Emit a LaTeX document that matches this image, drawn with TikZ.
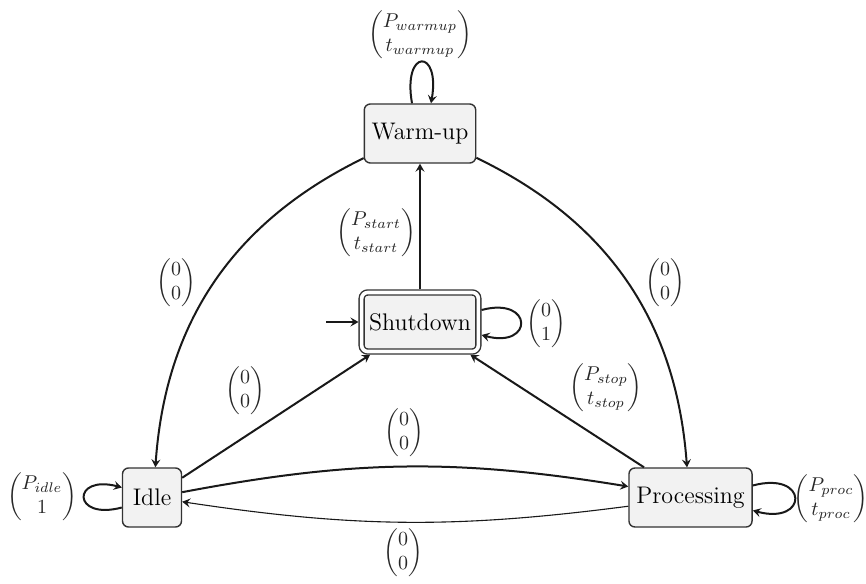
\documentclass[tikz,border=0pt]{standalone}
\usepackage{amsmath}
\usetikzlibrary{arrows.meta}
\begin{document}
\begin{tikzpicture}[x=0.5pt,y=-0.5pt,
  state/.style={draw=black!80, fill=black!5, rounded corners=3pt, line width=0.7pt,
    minimum width=29.5pt, minimum height=29.5pt, inner xsep=3.7pt, font=\large},
  initstate/.style={state, double=white, double distance=1.8pt, outer sep=1.6pt},
  conn/.style={-{Stealth[length=4pt,width=4.5pt,inset=1.5pt]}, line width=1pt, draw=black!90},
  thinconn/.style={conn, line width=0.55pt},
  lbl/.style={inner sep=0pt, text=black!85}]
\useasboundingbox (0,0) rectangle (866,583);

% states
\node[state]     (wu)   at (420,133.5) {Warm-up};
\node[initstate] (sd)   at (420,322)   {Shutdown};
\node[state]     (idle) at (152,497.5) {Idle};
\node[state]     (proc) at (690.5,497.5) {Processing};
\coordinate (start) at (326,322);

% transitions
\draw[conn] (start) -- (sd);
\draw[conn] (sd) -- (wu);
\draw[conn] (wu) to[bend right=30] (idle);
\draw[conn] (wu) to[bend left=30] (proc);
\draw[conn] (idle) -- (sd);
\draw[conn] (proc) -- (sd);
\draw[conn] (idle) to[bend left=10] (proc);
\draw[thinconn] (proc) to[bend left=8] (idle);

% self loops
\draw[conn] ([xshift=-4pt]wu.north) .. controls +(100:28pt) and +(80:28pt) .. ([xshift=5.5pt]wu.north);
\draw[conn] ([yshift=6pt]sd.east) .. controls +(15:27pt) and +(-15:27pt) .. ([yshift=-6.5pt]sd.east);
\draw[conn] ([yshift=6pt]proc.east) .. controls +(15:29pt) and +(-15:29pt) .. ([yshift=-6.5pt]proc.east);
\draw[conn] ([yshift=-5pt]idle.west) .. controls +(195:26pt) and +(165:26pt) .. ([yshift=5pt]idle.west);

% transition labels (power, time)
\node[lbl] (l-wu)   at (420,35)  {$\begin{pmatrix}P_{warmup}\\ t_{warmup}\end{pmatrix}$};
\node[lbl] (l-st)   at (376,233) {$\begin{pmatrix}P_{start}\\ t_{start}\end{pmatrix}$};
\node[lbl] (l-wi)   at (176,283) {$\begin{pmatrix}0\\ 0\end{pmatrix}$};
\node[lbl] (l-wp)   at (665,283) {$\begin{pmatrix}0\\ 0\end{pmatrix}$};
\node[lbl] (l-sd)   at (546,324) {$\begin{pmatrix}0\\ 1\end{pmatrix}$};
\node[lbl] (l-is)   at (245,391) {$\begin{pmatrix}0\\ 0\end{pmatrix}$};
\node[lbl] (l-ps)   at (606,388) {$\begin{pmatrix}P_{stop}\\ t_{stop}\end{pmatrix}$};
\node[lbl] (l-ip)   at (404,433) {$\begin{pmatrix}0\\ 0\end{pmatrix}$};
\node[lbl] (l-pi)   at (403,553) {$\begin{pmatrix}0\\ 0\end{pmatrix}$};
\node[lbl] (l-idle) at (42,497)  {$\begin{pmatrix}P_{idle}\\ 1\end{pmatrix}$};
\node[lbl] (l-proc) at (831,499) {$\begin{pmatrix}P_{proc}\\ t_{proc}\end{pmatrix}$};
\end{tikzpicture}
\end{document}
